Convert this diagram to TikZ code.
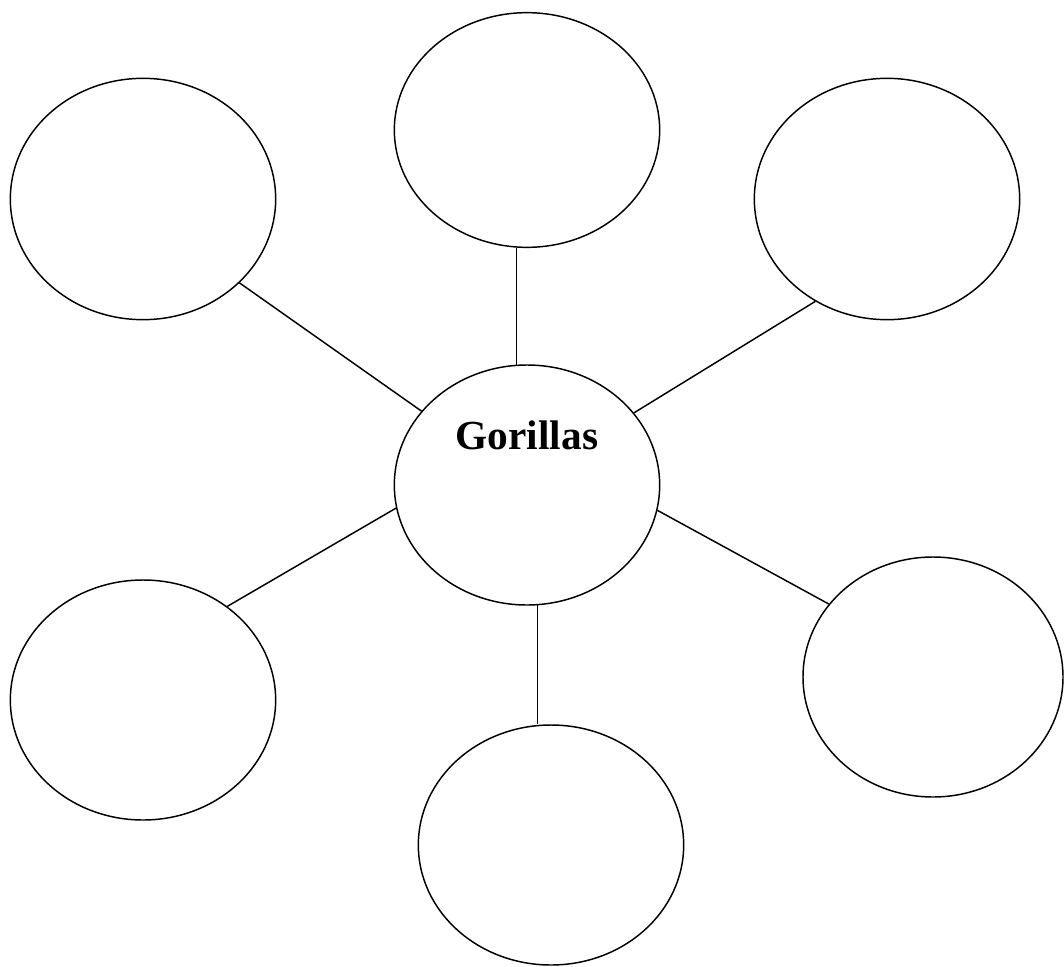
\documentclass[tikz,border=0pt]{standalone}
\usepackage{fontspec}
\setmainfont{Liberation Serif}
\usetikzlibrary{shapes.geometric}

\begin{document}
\begin{tikzpicture}
[x=0.75pt,y=-0.75pt,line width=1.1pt,
bubble/.style={shape=ellipse,draw,inner sep=0pt,minimum width=199pt,minimum height=180pt},
tall/.style={bubble,minimum height=176pt},
title/.style={font=\bfseries\fontsize{31}{36}\selectfont}]

\useasboundingbox (0,0) rectangle (1064,967);

% hub
\node[bubble,label={[title,name=hubtext,yshift=37pt]center:Gorillas}] (hub) at (527,485) {};

% outer bubbles
\node[tall] (top) at (527,130) {};
\node[bubble,minimum height=181pt] (topleft) at (143,199) {};
\node[bubble,minimum height=181pt] (topright) at (887,199) {};
\node[bubble] (botleft) at (143,700) {};
\node[bubble,minimum height=180pt] (botmid) at (551,845) {};
\node[bubble,minimum width=195pt] (botright) at (933,677) {};

% spokes
\draw (hub.95.5) -- (hub.95.5 |- top.south);
\draw (hub.145) -- (topleft.-41);
\draw (hub.34.5) -- (topright.-125);
\draw (hub.190.9) -- (botleft.48.5);
\draw (hub.275.7) -- (hub.275.7 |- botmid.north);
\draw (hub.349) -- (botright.145);
\end{tikzpicture}
\end{document}
